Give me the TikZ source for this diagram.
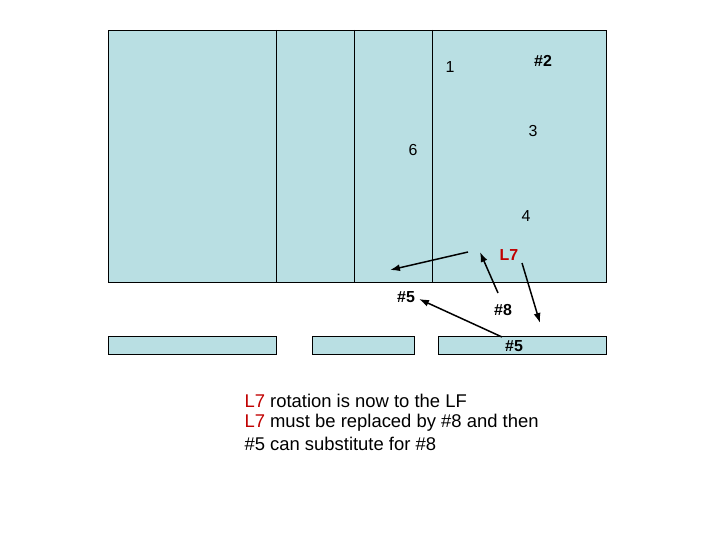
\documentclass[tikz,border=0pt]{standalone}
\usepackage{fontspec}
\usetikzlibrary{arrows.meta}
\setmainfont{Liberation Sans}
\definecolor{fillc}{RGB}{185,223,227}
\definecolor{darkred}{RGB}{192,0,0}
\begin{document}
\begin{tikzpicture}[x=1bp,y=-1bp,
 box/.style={draw=black,fill=fillc,line width=0.6pt},
 lab/.style={font=\fontsize{16}{18}\selectfont\bfseries},
 num/.style={font=\fontsize{16}{18}\selectfont},
 arr/.style={-{Latex[length=10pt,width=7pt]},line width=1.5pt},
 txt/.style={font=\fontsize{18.5}{20}\selectfont,anchor=west}]
\useasboundingbox (0,0) rectangle (720,540);
\draw[box] (108,30) rectangle (606,282);
\draw[line width=0.6pt] (276,30) -- (276,282) (354,30) -- (354,282) (432,30) -- (432,282);
\draw[box] (108,336) rectangle (276,354);
\draw[box] (312,336) rectangle (414,354);
\draw[box] (438,336) rectangle (606,354);
\node[num] (n1) at (450,67) {1};
\node[lab] (n2) at (543,61) {\#2};
\node[num] (n3) at (533,131) {3};
\node[num] (n6) at (413,150) {6};
\node[num] (n4) at (526,216) {4};
\node[lab,text=darkred] (l7) at (509,255) {L7};
\node[lab] (h5a) at (406,297) {\#5};
\node[lab] (h8) at (503,310) {\#8};
\node[lab] (h5b) at (514,346) {\#5};
\coordinate (a1s) at (468,252); \coordinate (a1e) at (390,270);
\coordinate (a2s) at (498,293); \coordinate (a2e) at (480,252);
\coordinate (a3s) at (522,263); \coordinate (a3e) at (540,323);
\coordinate (a4s) at (502,337); \coordinate (a4e) at (419,299);
\draw[arr] (a1s) -- (a1e);
\draw[arr] (a2s) -- (a2e);
\draw[arr] (a3s) -- (a3e);
\draw[arr] (a4s) -- (a4e);
\node[txt] (t1) at (241,401) {\textcolor{darkred}{L7} rotation is now to the LF};
\node[txt] (t2) at (241,423) {\textcolor{darkred}{L7} must be replaced by \#8 and then};
\node[txt] (t3) at (241,444) {\#5 can substitute for \#8};
\end{tikzpicture}
\end{document}
